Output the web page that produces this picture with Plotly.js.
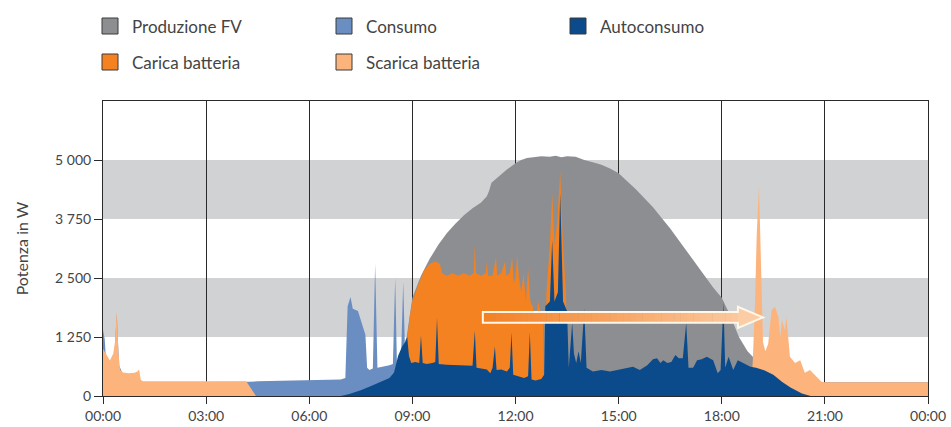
<!DOCTYPE html>
<html><head><meta charset="utf-8">
<script src="https://cdn.plot.ly/plotly-3.0.1.min.js"></script>
<style>html,body{margin:0;padding:0;background:#fff}#chart{width:951px;height:427px}</style>
</head><body><div id="chart"></div>
<script>
// ---- axis labels ----
const xTickVals = [0, 3, 6, 9, 12, 15, 18, 21, 24];
const xTickLabels = ["00:00", "03:00", "06:00", "09:00", "12:00", "15:00", "18:00", "21:00", "00:00"];
const yTickVals = [0, 1250, 2500, 3750, 5000];
const yTickLabels = ["0", "1 250", "2 500", "3 750", "5 000"];
const yTitle = "Potenza in W";

// ---- series (time HH:MM, power W) ----
const fvTime = ["00:00","06:30","07:00","07:30","08:00","08:20","08:30","08:42","08:50","08:54","09:00","09:15","09:30","09:45","10:00","10:15","10:30","10:45","11:00","11:10","11:14","11:18","11:30","11:45","12:00","12:10","12:20","12:30","12:45","13:00","13:10","13:20","13:30","13:45","14:00","14:15","14:30","14:45","15:00","15:30","16:00","16:30","17:00","17:30","17:45","18:00","18:15","18:30","18:45","19:00","19:15","19:30","19:45","20:00","20:20","20:40","24:00"];
const fvW    = [0,0,30,80,180,330,480,1000,1250,1550,2080,2550,2900,3200,3450,3650,3830,3980,4100,4230,4350,4520,4650,4800,4930,5000,5040,5060,5080,5070,5090,5060,5080,5070,5000,4950,4900,4820,4720,4380,4000,3550,3050,2560,2300,2080,1700,1250,950,760,600,470,320,190,60,0,0];

const consumoTime = ["00:00","00:03","00:05","00:07","00:12","00:20","00:24","00:28","00:35","01:00","01:08","04:00","04:15","04:30","05:00","05:30","06:00","06:30","06:55","07:03","07:07","07:12","07:16","07:25","07:33","07:38","07:41","07:45","07:51","07:55","07:59","08:10","08:20","08:26","08:30","08:33","08:40","08:44","08:47","08:52","09:00","09:30","12:00","18:00","19:00","20:50","24:00"];
const consumoW    = [1400,1200,800,700,650,900,1750,650,450,450,290,290,300,310,320,320,340,350,350,380,1900,2100,1850,1800,1500,1300,600,550,580,2800,600,620,650,680,2500,700,720,2420,1000,900,700,420,400,400,400,290,290];

const caricaTime = ["00:00","08:48","08:51","08:55","09:00","09:10","09:20","09:30","09:40","09:48","09:52","10:00","10:10","10:20","10:30","10:40","10:47","10:49","10:51","11:00","11:08","11:10","11:12","11:20","11:26","11:28","11:35","11:42","11:44","11:50","11:54","11:57","12:00","12:03","12:06","12:10","12:14","12:18","12:22","12:26","12:30","12:35","12:40","12:45","12:48","12:50","12:52","12:54","13:00","13:04","13:08","13:13","13:18","13:23","13:28","13:32","24:00"];
const caricaW    = [0,0,1200,1650,2000,2350,2650,2800,2850,2800,2600,2550,2600,2550,2600,2550,2600,3200,2600,2550,2600,2850,2550,2550,2950,2550,2600,2850,2550,2600,2950,2400,2500,3000,2500,2200,2600,2000,2700,2000,1900,1600,2000,1700,1500,0,0,2200,3200,4300,3200,3700,4750,3200,2200,0,0];

const scaricaTime = ["00:00","00:05","00:09","00:12","00:18","00:21","00:24","00:27","00:30","00:35","00:45","00:55","01:00","01:03","01:06","01:10","04:10","04:27","18:50","18:54","18:58","19:01","19:05","19:08","19:12","19:16","19:21","19:27","19:33","19:39","19:42","19:45","19:50","19:53","19:59","20:08","20:17","20:25","20:34","20:46","20:54","21:00","24:00"];
const scaricaW    = [1000,900,800,750,900,1150,1800,900,550,500,480,490,520,560,340,310,310,0,0,700,1950,3400,4450,3000,1150,950,1100,1820,1890,1670,1250,1610,1400,1670,830,700,760,490,550,400,300,290,290];

const autoTime = ["00:00","06:55","07:10","07:30","07:50","08:05","08:20","08:28","08:35","08:42","08:48","08:51","08:54","08:58","09:05","09:12","09:15","09:18","09:25","09:35","09:40","09:43","09:46","10:00","10:15","10:30","10:45","10:49","10:52","11:00","11:10","11:16","11:20","11:24","11:27","11:35","11:45","11:50","11:53","11:56","12:05","12:15","12:22","12:25","12:28","12:35","12:45","12:50","12:52","13:00","13:04","13:08","13:14","13:18","13:23","13:30","13:33","13:36","13:39","13:42","13:46","13:50","13:54","14:00","14:04","14:15","14:30","14:45","15:00","15:15","15:25","15:37","15:50","16:00","16:07","16:13","16:18","16:25","16:32","16:39","16:45","16:52","16:58","17:02","17:10","17:17","17:25","17:34","17:40","17:45","17:53","17:58","18:03","18:06","18:12","18:20","18:28","18:38","18:50","19:00","19:15","19:30","19:45","20:00","20:20","20:35","24:00"];
const autoW    = [0,0,40,120,220,300,380,500,850,1050,1150,1250,850,700,720,700,1280,700,680,700,720,1650,680,660,650,640,640,1380,600,580,560,480,600,1050,550,560,520,600,1350,450,420,380,420,1350,350,330,360,450,1900,2000,3300,2000,2200,4300,2000,1800,600,1000,1550,900,700,950,700,1850,600,520,550,520,560,600,620,550,650,780,800,700,760,700,720,870,800,800,1550,600,600,760,780,830,800,760,480,550,2000,600,830,550,760,700,620,600,540,450,300,180,55,0,0];

// ---- legend entries ----
const legendNames  = ["Produzione FV", "Consumo", "Autoconsumo", "Carica batteria", "Scarica batteria"];
const legendColors = ["#8d8e91", "#6a8dc2", "#0b4b8b", "#f58220", "#fcb47c"];

// ---- helpers ----
function toH(t) { const p = t.split(":"); return (+p[0]) + (+p[1]) / 60; }
function area(times, vals, color) {
  return { x: times.map(toH), y: vals, type: "scatter", mode: "lines",
           line: { width: 0, color: color, shape: "linear" }, fill: "tozeroy",
           fillcolor: color, hoverinfo: "skip", showlegend: false };
}

const traces = [
  area(fvTime, fvW, legendColors[0]),
  area(consumoTime, consumoW, legendColors[1]),
  area(caricaTime, caricaW, legendColors[3]),
  area(scaricaTime, scaricaW, legendColors[4]),
  area(autoTime, autoW, legendColors[2])
];

// ---- layout geometry (pixels) ----
const W = 951, H = 427, mL = 103, mR = 23, mT = 101, mB = 31;
const pw = W - mL - mR, ph = H - mT - mB;
const pxX = px => (px - mL) / pw;
const pxY = py => (H - mB - py) / ph;

const shapes = [];
const annotations = [];

// horizontal bands
[[1250, 2500], [3750, 5000]].forEach(b => shapes.push({
  type: "rect", xref: "paper", yref: "y", x0: 0, x1: 1, y0: b[0], y1: b[1],
  fillcolor: "#d1d2d4", line: { width: 0 }, layer: "below"
}));

// legend (manual grid: 3 columns, 2 rows)
const colPx = [102, 336, 570], rowPx = [26, 62];
legendNames.forEach((name, i) => {
  const c = i % 3, r = Math.floor(i / 3);
  shapes.push({ type: "rect", xref: "paper", yref: "paper",
    x0: pxX(colPx[c]), x1: pxX(colPx[c] + 16), y0: pxY(rowPx[r] + 8), y1: pxY(rowPx[r] - 8),
    fillcolor: legendColors[i], line: { color: "#3a3a3a", width: 1 } });
  annotations.push({ xref: "paper", yref: "paper", x: pxX(colPx[c] + 28), y: pxY(rowPx[r]),
    xanchor: "left", yanchor: "middle", showarrow: false, text: name,
    font: { family: "Lato, sans-serif", size: 17, color: "#444" } });
});

// arrow (gradient shaft + head + light outline)
const aX0 = 11.05, aX1 = 18.47, aTip = 19.2, aY0 = 1550, aY1 = 1780, hY0 = 1440, hY1 = 1890;
const c0 = [243, 128, 36], c1 = [252, 200, 158];
const N = 40;
for (let k = 0; k < N; k++) {
  const t = (k + 0.5) / N;
  const col = "rgb(" + c0.map((v, j) => Math.round(v + (c1[j] - v) * t)).join(",") + ")";
  shapes.push({ type: "rect", xref: "x", yref: "y",
    x0: aX0 + (aX1 - aX0) * k / N, x1: aX0 + (aX1 - aX0) * (k + 1) / N + 0.01,
    y0: aY0, y1: aY1, fillcolor: col, line: { width: 0 } });
}
const ym = (hY0 + hY1) / 2;
shapes.push({ type: "path", xref: "x", yref: "y",
  path: `M${aX1},${hY0} L${aTip},${ym} L${aX1},${hY1} Z`,
  fillcolor: "rgb(252,204,164)", line: { width: 0 } });
shapes.push({ type: "path", xref: "x", yref: "y",
  path: `M${aX0},${aY0} L${aX1},${aY0} L${aX1},${hY0} L${aTip},${ym} L${aX1},${hY1} L${aX1},${aY1} L${aX0},${aY1} Z`,
  fillcolor: "rgba(0,0,0,0)", line: { color: "#fff7e8", width: 2 } });

const axisFont = { family: "Lato, sans-serif", size: 14, color: "#444" };

const layout = {
  width: W, height: H,
  margin: { l: mL, r: mR, t: mT, b: mB, pad: 0 },
  paper_bgcolor: "#fff", plot_bgcolor: "#fff",
  showlegend: false,
  xaxis: {
    range: [0, 24], tickvals: xTickVals, ticktext: xTickLabels,
    showgrid: true, gridcolor: "#2a2a2a", gridwidth: 1,
    showline: true, linecolor: "#2a2a2a", linewidth: 1, mirror: true,
    ticks: "outside", ticklen: 7, tickcolor: "#2a2a2a", tickfont: axisFont,
    zeroline: false, fixedrange: true
  },
  yaxis: {
    range: [0, 6250], tickvals: yTickVals, ticktext: yTickLabels,
    showgrid: false, showline: true, linecolor: "#2a2a2a", linewidth: 1, mirror: true,
    ticks: "outside", ticklen: 8, tickcolor: "#2a2a2a", tickfont: axisFont,
    zeroline: false, fixedrange: true,
    title: { text: yTitle, font: { family: "Lato, sans-serif", size: 16, color: "#444" }, standoff: 22 }
  },
  shapes: shapes,
  annotations: annotations
};

Plotly.newPlot("chart", traces, layout, { displayModeBar: false, staticPlot: true });
</script>
</body></html>
